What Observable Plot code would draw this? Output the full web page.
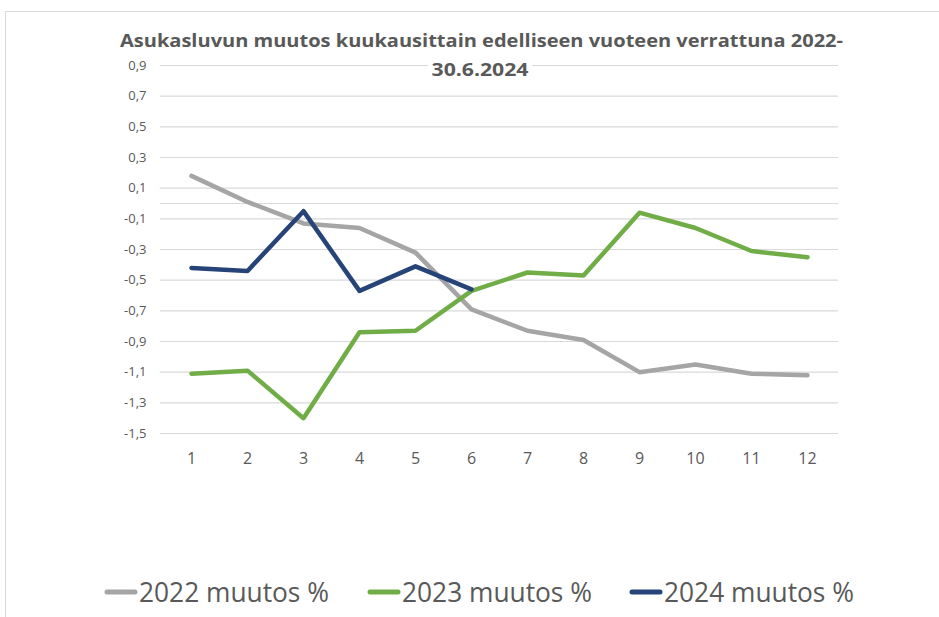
<!DOCTYPE html>
<html>
<head>
<meta charset="utf-8">
<script src="https://cdn.jsdelivr.net/npm/d3@7"></script>
<script src="https://cdn.jsdelivr.net/npm/@observablehq/plot@0.6"></script>
<style>
  html, body { margin: 0; padding: 0; background: #fff; }
  #wrap { position: relative; width: 939px; height: 617px; overflow: hidden; }
  #frame { position: absolute; left: 5px; top: 11px; width: 940px; height: 620px;
           border-top: 1px solid #d9d9d9; border-left: 1.5px solid #d9d9d9; box-sizing: border-box; }
  #chart { position: absolute; left: 0; top: 0; }
</style>
</head>
<body>
<div id="wrap"><div id="frame"></div><div id="chart"></div></div>
<script>
// ---- data ----
const months = [1, 2, 3, 4, 5, 6, 7, 8, 9, 10, 11, 12];
const values2022 = [0.18, 0.01, -0.13, -0.16, -0.32, -0.69, -0.83, -0.89, -1.10, -1.05, -1.11, -1.12];
const values2023 = [-1.11, -1.09, -1.40, -0.84, -0.83, -0.57, -0.45, -0.47, -0.06, -0.16, -0.31, -0.35];
const values2024 = [-0.42, -0.44, -0.05, -0.57, -0.41, -0.56];
const seriesNames = ["2022 muutos %", "2023 muutos %", "2024 muutos %"];
const seriesColors = ["#A5A5A5", "#70AD47", "#264478"];
const yTicks = [0.9, 0.7, 0.5, 0.3, 0.1, -0.1, -0.3, -0.5, -0.7, -0.9, -1.1, -1.3, -1.5];
const titleLines = ["Asukasluvun muutos kuukausittain edelliseen vuoteen verrattuna 2022-", "30.6.2024"];

const seriesValues = [values2022, values2023, values2024];
const rows = seriesValues.flatMap((vals, i) =>
  vals.map((v, j) => ({ month: months[j], value: v, series: seriesNames[i] })));

const fmt = d => d.toFixed(1).replace(".", ",");

const chart = Plot.plot({
  width: 939,
  height: 617,
  marginLeft: 160,
  marginRight: 101,
  marginTop: 65,
  marginBottom: 184,
  style: { fontFamily: "'Open Sans', sans-serif", color: "#595959", background: "transparent" },
  x: { type: "point", domain: months, padding: 0.5 },
  y: { domain: [-1.5, 0.9] },
  color: { domain: seriesNames, range: seriesColors },
  marks: [
    Plot.gridY(yTicks, { stroke: "#d9d9d9", strokeOpacity: 1, strokeWidth: 1.2 }),
    Plot.ruleY([0], { stroke: "#d9d9d9", strokeWidth: 1.2 }),
    Plot.axisY(yTicks, { tickSize: 0, tickPadding: 14, tickFormat: fmt, fontSize: 13, label: null }),
    Plot.axisX({ tickSize: 0, tickPadding: 19, fontSize: 16, label: null }),
    Plot.line(rows, { x: "month", y: "value", z: "series", stroke: "series",
      strokeWidth: 4.5, strokeLinejoin: "round", strokeLinecap: "round" })
  ]
});
document.getElementById("chart").appendChild(chart);

// ---- title & legend overlays ----
const svg = d3.select(chart);
const ns = svg.append("g").attr("font-family", "'Open Sans', sans-serif").attr("fill", "#595959");
ns.append("rect").attr("x", 428).attr("y", 58).attr("width", 104).attr("height", 22).attr("fill", "#fff");
ns.append("text").attr("x", 481.5).attr("y", 47).attr("text-anchor", "middle")
  .attr("font-size", 18).attr("font-weight", "bold")
  .attr("textLength", 723).attr("lengthAdjust", "spacingAndGlyphs").text(titleLines[0]);
ns.append("text").attr("x", 480).attr("y", 76).attr("text-anchor", "middle")
  .attr("font-size", 18).attr("font-weight", "bold")
  .attr("textLength", 97).attr("lengthAdjust", "spacingAndGlyphs").text(titleLines[1]);

const legendX = [105, 368, 630];
seriesNames.forEach((name, i) => {
  const g = ns.append("g").attr("transform", `translate(${legendX[i]},592)`);
  g.append("line").attr("x1", 2).attr("x2", 30).attr("y1", 0).attr("y2", 0)
    .attr("stroke", seriesColors[i]).attr("stroke-width", 5).attr("stroke-linecap", "round");
  g.append("text").attr("x", 34).attr("y", 10).attr("font-size", 28).attr("text-anchor", "start")
    .attr("textLength", 190).attr("lengthAdjust", "spacingAndGlyphs").text(name);
});
</script>
</body>
</html>
